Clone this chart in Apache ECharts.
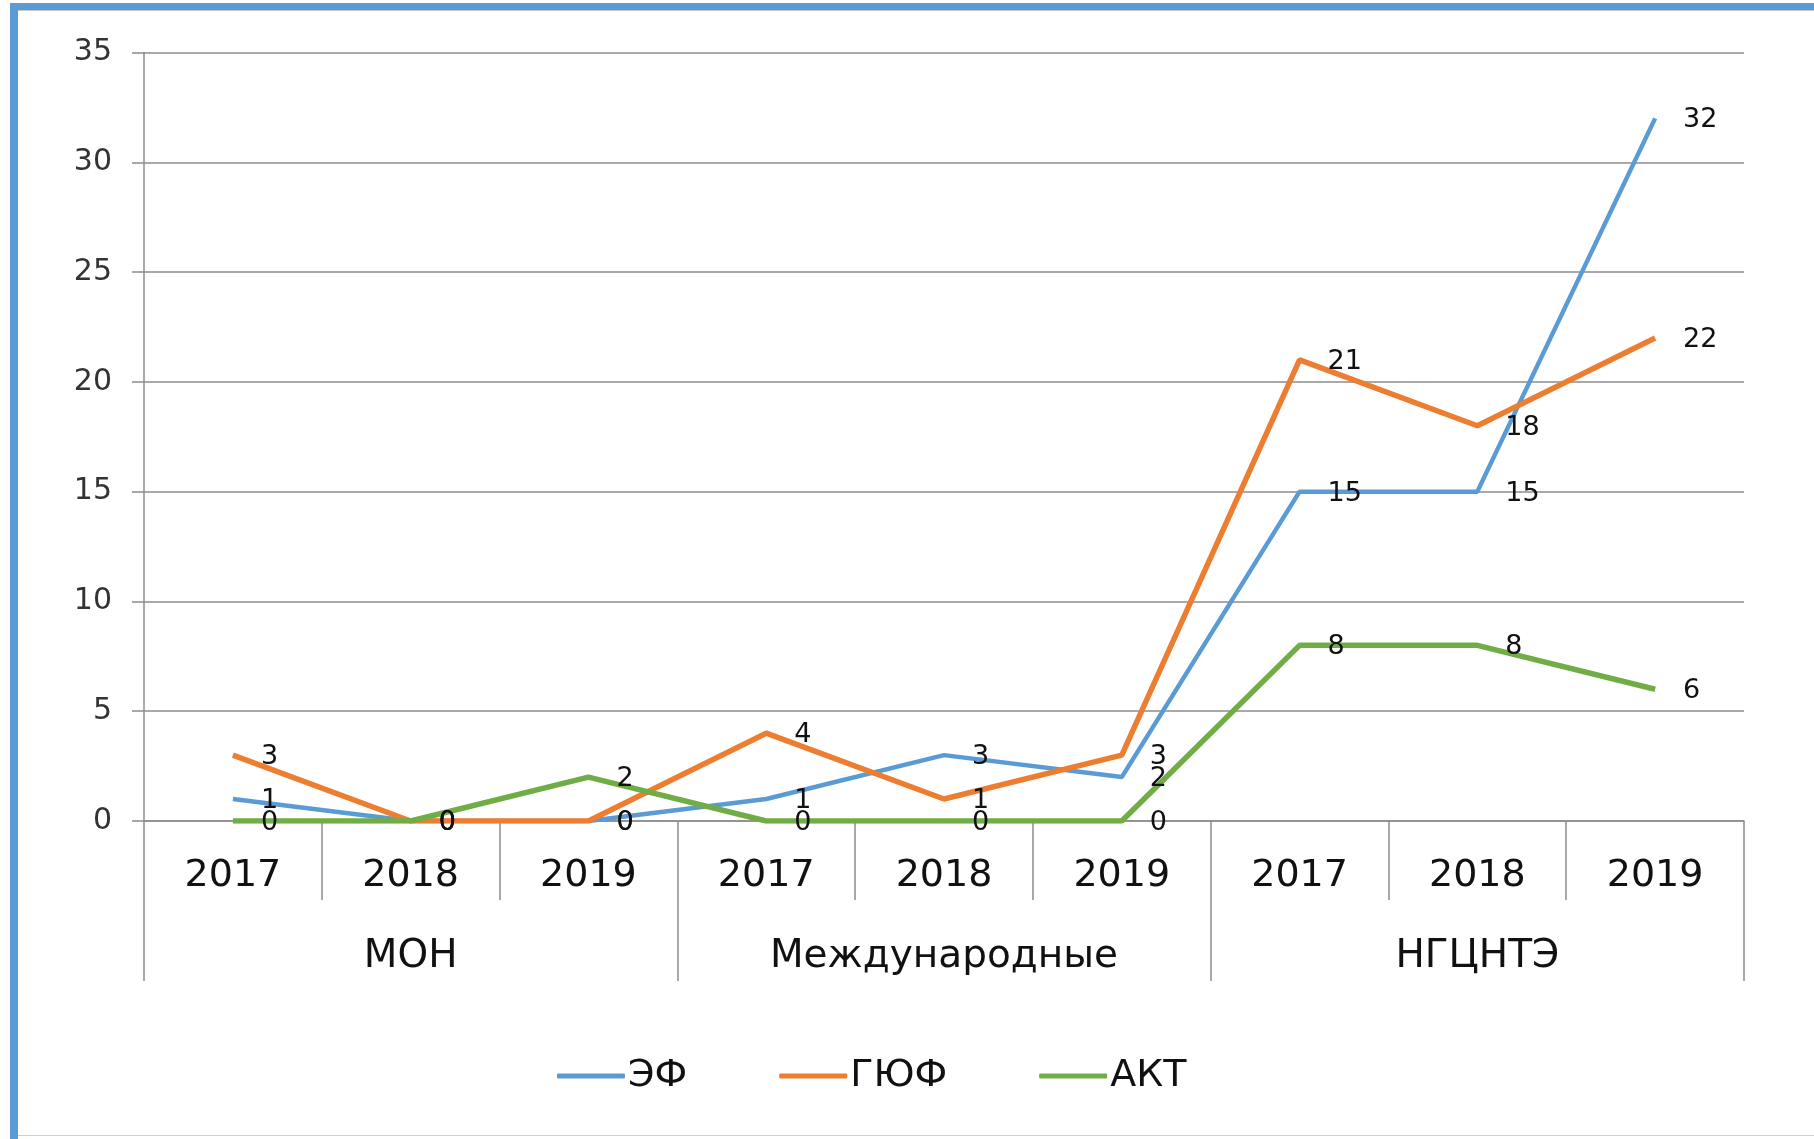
<!DOCTYPE html>
<html><head><meta charset="utf-8">
<script src="https://cdn.jsdelivr.net/npm/echarts@6/dist/echarts.min.js"></script>
<style>html,body{margin:0;padding:0;background:#fff}#c{width:1814px;height:1139px}</style>
</head><body><div id="c"></div>
<script>
const years = ['2017','2018','2019','2017','2018','2019','2017','2018','2019'];
const groups = ['МОН','Международные','НГЦНТЭ'];
const seriesNames = ['ЭФ','ГЮФ','АКТ'];
const ef  = [1,0,0,1,3,2,15,15,32];
const guf = [3,0,0,4,1,3,21,18,22];
const akt = [0,0,2,0,0,0,8,8,6];
const yTicks = {min:0,max:35,interval:5};
const colors = ['#5B9BD5','#ED7D31','#70AD47'];

const chart = echarts.init(document.getElementById('c'));
const mk = (name, data, color, w) => ({
  name, type:'line', data, xAxisIndex:0, yAxisIndex:0,
  symbol:'circle', symbolSize:0.01, showSymbol:true, smooth:false,
  lineStyle:{color, width:w}, itemStyle:{color},
  label:{show:true, position:'right', distance:28, offset:[0,2], color:'#111',
    fontFamily:'DejaVu Sans', fontSize:27}
});
chart.setOption({
  animation:false,
  graphic:[
    {type:'rect', shape:{x:10,y:3,width:1804,height:7}, style:{fill:'#5B9BD5'}},
    {type:'rect', shape:{x:10,y:3,width:8,height:1136}, style:{fill:'#5B9BD5'}},
    {type:'line', shape:{x1:18,y1:10.5,x2:1814,y2:10.5}, style:{stroke:'#c8c8c8',lineWidth:1}},
    {type:'line', shape:{x1:18,y1:1135.5,x2:1814,y2:1135.5}, style:{stroke:'#d0d0d0',lineWidth:1}}
  ],
  grid:{left:144, right:70, top:52.5, bottom:318},
  legend:{
    data:seriesNames, bottom:39, left:552, itemWidth:68, itemHeight:5, itemGap:92,
    icon:'roundRect',
    textStyle:{fontFamily:'DejaVu Sans', fontSize:38, color:'#111', padding:[0,0,0,-2]}
  },
  xAxis:[
    {type:'category', data:years, position:'bottom', boundaryGap:true,
     axisLine:{show:true, lineStyle:{color:'#8c8c8c', width:1.5}},
     axisTick:{show:true, length:79, interval:0, lineStyle:{color:'#8c8c8c', width:1.5}},
     axisLabel:{interval:0, margin:36, color:'#111', fontFamily:'DejaVu Sans', fontSize:38}},
    {type:'category', data:groups, position:'bottom', boundaryGap:true,
     axisLine:{show:false},
     axisTick:{show:true, length:160, interval:0, lineStyle:{color:'#8c8c8c', width:1.5}},
     axisLabel:{interval:0, margin:116, color:'#111', fontFamily:'DejaVu Sans', fontSize:39}}
  ],
  yAxis:{type:'value', min:yTicks.min, max:yTicks.max, interval:yTicks.interval,
    axisLine:{show:true, lineStyle:{color:'#8c8c8c', width:1.5}},
    axisTick:{show:true, length:12, lineStyle:{color:'#8c8c8c', width:1.5}},
    splitLine:{show:true, lineStyle:{color:'#8c8c8c', width:1.5}},
    axisLabel:{margin:32, color:'#333', fontFamily:'DejaVu Sans', fontSize:30}},
  series:[
    mk(seriesNames[0], ef, colors[0], 4.5),
    mk(seriesNames[1], guf, colors[1], 5.5),
    mk(seriesNames[2], akt, colors[2], 5.5)
  ]
});
</script></body></html>
